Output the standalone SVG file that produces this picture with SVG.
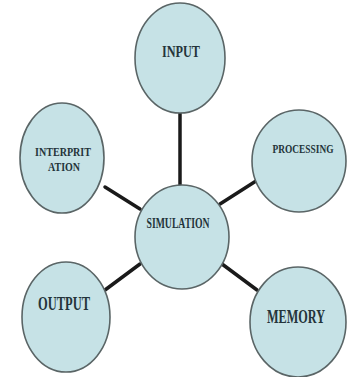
<svg xmlns="http://www.w3.org/2000/svg" width="359" height="377" viewBox="0 0 359 377">
<style>
.node{fill:#c6e2e6;stroke:#5a6566;stroke-width:1.6}
.lbl{font-family:"Liberation Serif","Times New Roman",serif;font-weight:bold;fill:#24343a;text-anchor:middle}
.conn{stroke:#1a1a1a;stroke-width:3.5;stroke-linecap:round}
</style>
<rect width="359" height="377" fill="#ffffff"/>
<g id="connectors">
<line class="conn" x1="180" y1="113" x2="180" y2="186"/>
<line class="conn" x1="105" y1="187" x2="140" y2="209"/>
<line class="conn" x1="256" y1="181" x2="220" y2="204"/>
<line class="conn" x1="140" y1="264" x2="105" y2="290"/>
<line class="conn" x1="222" y1="264" x2="257" y2="290"/>
</g>
<g id="input">
<ellipse class="node" cx="180" cy="58" rx="45" ry="55"/>
<text class="lbl" x="181" y="57" font-size="17" textLength="38" lengthAdjust="spacingAndGlyphs">INPUT</text>
</g>
<g id="interpretation">
<ellipse class="node" cx="62" cy="158" rx="42" ry="55"/>
<text class="lbl" x="63" y="156" font-size="13" textLength="56" lengthAdjust="spacingAndGlyphs">INTERPRIT</text>
<text class="lbl" x="64" y="171" font-size="13" textLength="32" lengthAdjust="spacingAndGlyphs">ATION</text>
</g>
<g id="processing">
<ellipse class="node" cx="299" cy="161" rx="47" ry="51"/>
<text class="lbl" x="303" y="153" font-size="13.5" textLength="61" lengthAdjust="spacingAndGlyphs">PROCESSING</text>
</g>
<g id="simulation">
<ellipse class="node" cx="182" cy="237" rx="47" ry="52"/>
<text class="lbl" x="178" y="228" font-size="14" textLength="63" lengthAdjust="spacingAndGlyphs">SIMULATION</text>
</g>
<g id="output">
<ellipse class="node" cx="66" cy="317" rx="44" ry="55"/>
<text class="lbl" x="64" y="310" font-size="18" textLength="52" lengthAdjust="spacingAndGlyphs">OUTPUT</text>
</g>
<g id="memory">
<ellipse class="node" cx="298" cy="322" rx="48" ry="55"/>
<text class="lbl" x="296" y="323" font-size="19" textLength="58" lengthAdjust="spacingAndGlyphs">MEMORY</text>
</g>
</svg>
